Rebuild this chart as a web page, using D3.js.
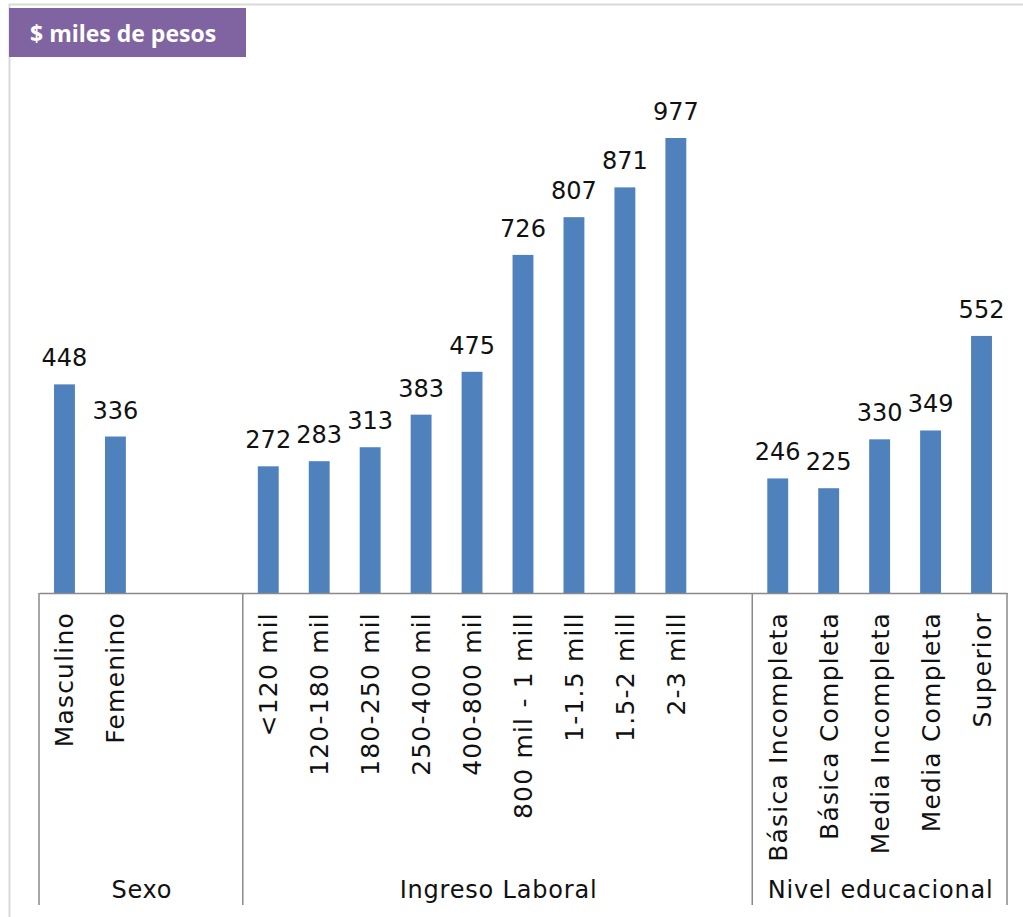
<!DOCTYPE html>
<html>
<head>
<meta charset="utf-8">
<script src="https://cdn.jsdelivr.net/npm/d3@7"></script>
<style>
  body { margin: 0; background: #fff; }
  svg { display: block; }
</style>
</head>
<body>
<div id="chart"></div>
<script>
// values
const sexoCats = ["Masculino", "Femenino"];
const sexoVals = [448, 336];
const ingresoCats = ["<120 mil", "120-180 mil", "180-250 mil", "250-400 mil", "400-800 mil",
  "800 mil - 1 mill", "1-1.5 mill", "1.5-2 mill", "2-3 mill"];
const ingresoVals = [272, 283, 313, 383, 475, 726, 807, 871, 977];
const educCats = ["Básica Incompleta", "Básica Completa", "Media Incompleta", "Media Completa", "Superior"];
const educVals = [246, 225, 330, 349, 552];
const groupNames = ["Sexo", "Ingreso Laboral", "Nivel educacional"];
const groupSlots = [4, 10, 5];   // slots per group, incl. empty ones

const width = 1023, height = 917;
const baseY = 593;

function buildRows() {
  let rows = [];
  let lists = [[sexoCats, sexoVals], [ingresoCats, ingresoVals], [educCats, educVals]];
  lists.forEach(function(l, g) {
    for (let i = 0; i < groupSlots[g]; i++) {
      rows.push({
        key: g + "_" + i,
        label: i < l[0].length ? l[0][i] : "",
        value: i < l[0].length ? l[1][i] : null
      });
    }
  });
  return rows;
}
const rows = buildRows();

let svg = d3.select("#chart").append("svg")
  .attr("width", width)
  .attr("height", height);

// outer frame
svg.append("path")
  .attr("d", "M9.5,920 V4.5 H1023")
  .attr("fill", "none")
  .attr("stroke", "#d9d9d9")
  .attr("stroke-width", 2);

// unit badge
svg.append("rect")
  .attr("x", 9).attr("y", 8)
  .attr("width", 237).attr("height", 49)
  .attr("fill", "#8064a2");
svg.append("text")
  .attr("x", 30).attr("y", 42)
  .attr("font-family", "Open Sans")
  .attr("font-weight", "bold")
  .attr("font-size", 23)
  .attr("fill", "#fff")
  .text("$ miles de pesos");

let x = d3.scaleBand()
  .domain(rows.map(d => d.key))
  .range([39, 1007])
  .paddingInner(0.59)
  .paddingOuter(0.295);

let y = d3.scaleLinear()
  .domain([0, 1000])
  .range([baseY, baseY - 465.7]);

let bars = rows.filter(d => d.value !== null);

svg.selectAll("rect.bar")
  .data(bars)
  .enter()
  .append("rect")
  .attr("class", "bar")
  .attr("x", d => x(d.key))
  .attr("width", x.bandwidth())
  .attr("y", d => y(d.value))
  .attr("height", d => y(0) - y(d.value))
  .attr("fill", "#4f81bd");

svg.selectAll("text.val")
  .data(bars)
  .enter()
  .append("text")
  .attr("class", "val")
  .attr("x", d => x(d.key) + x.bandwidth() / 2)
  .attr("y", d => y(d.value) - 18)
  .attr("text-anchor", "middle")
  .attr("font-family", "DejaVu Sans")
  .attr("font-size", 24)
  .attr("fill", "#111")
  .text(d => d.value);

// category axis
let labelOf = {};
rows.forEach(d => labelOf[d.key] = d.label);

let axis = svg.append("g")
  .attr("transform", "translate(0," + baseY + ")")
  .call(d3.axisBottom(x).tickSize(0).tickSizeOuter(0).tickFormat(k => labelOf[k]));

axis.select(".domain")
  .attr("stroke", "#898989")
  .attr("stroke-width", 1.5);

axis.selectAll(".tick text")
  .attr("transform", "rotate(-90)")
  .attr("text-anchor", "end")
  .attr("x", -19)
  .attr("y", 0)
  .attr("dy", "0.36em")
  .attr("font-family", "DejaVu Sans")
  .attr("font-size", 25)
  .attr("letter-spacing", 1.2)
  .attr("fill", "#111");

// group separators and group names
let bounds = [0];
groupSlots.forEach(function(n, i) { bounds.push(bounds[i] + n); });
let x0 = x.range()[0], step = x.step();

svg.selectAll("line.sep")
  .data(bounds)
  .enter()
  .append("line")
  .attr("class", "sep")
  .attr("x1", b => x0 + b * step)
  .attr("x2", b => x0 + b * step)
  .attr("y1", baseY)
  .attr("y2", 905)
  .attr("stroke", "#898989")
  .attr("stroke-width", 1.5);

svg.selectAll("text.grp")
  .data(groupNames)
  .enter()
  .append("text")
  .attr("class", "grp")
  .attr("x", (d, i) => x0 + (bounds[i] + bounds[i + 1]) / 2 * step + 1)
  .attr("y", 898)
  .attr("text-anchor", "middle")
  .attr("font-family", "DejaVu Sans")
  .attr("font-size", 24)
  .attr("letter-spacing", 0.8)
  .attr("fill", "#111")
  .text(d => d);
</script>
</body>
</html>
